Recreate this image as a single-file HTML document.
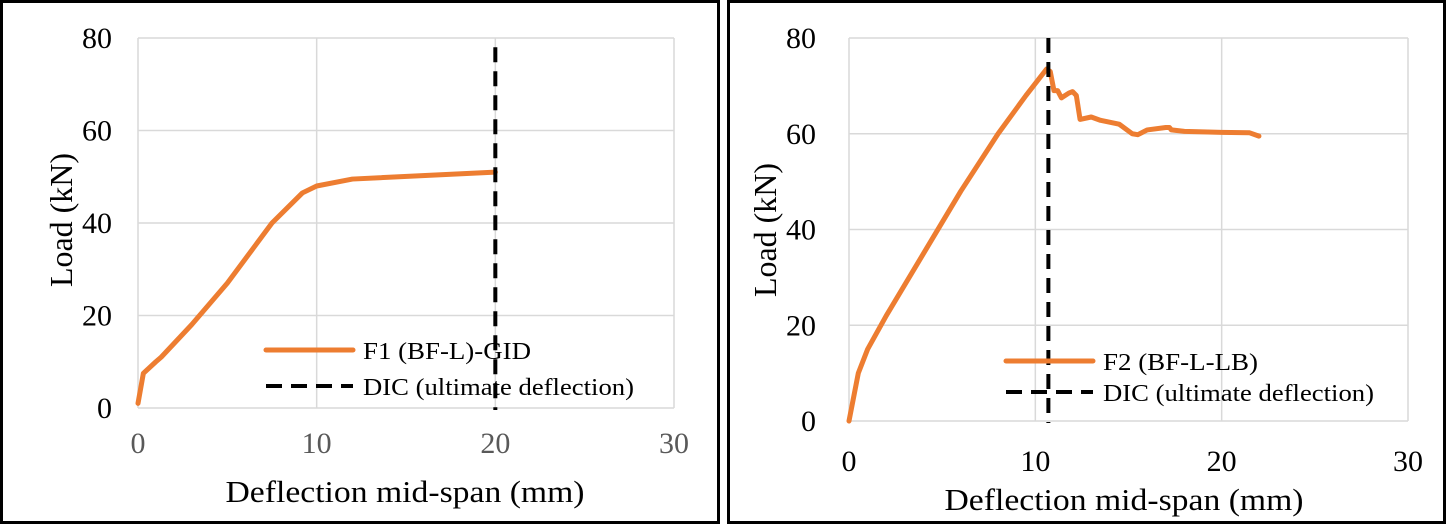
<!DOCTYPE html>
<html><head><meta charset="utf-8"><style>
body{margin:0;background:#fff;}
svg{display:block;font-family:"Liberation Serif",serif;}
</style></head><body>
<svg width="1446" height="524">
<g id="left"></g>
<g id="right"></g>
</svg>
<script>
const xTicks=[0,10,20,30];
const yTicks=[0,20,40,60,80];
const f1X=[0,0.3,1,1.3,3,5,7.5,9.2,10,12,20];
const f1Y=[1,7.5,10,11,18,27,40,46.5,48,49.5,51];
const f2X=[0,0.5,1,2,4,6,8,9.5,10.6,10.8,11,11.2,11.4,11.8,12,12.2,12.4,13,13.5,14.5,15.2,15.5,16,17,17.2,17.3,18,20,21.5,22];
const f2Y=[0,10,15,22,35,48,60,68,73.5,73,69,69,67.5,68.5,68.8,68,63,63.5,62.8,62,60,59.8,60.8,61.3,61.3,60.8,60.5,60.3,60.2,59.5];
const dic1X=20, dic1Top=78;
const dic2X=10.7, dic2Top=80;
const NS="http://www.w3.org/2000/svg";
function mk(p,t,a){const e=document.createElementNS(NS,t);for(const k in a)e.setAttribute(k,a[k]);p.appendChild(e);return e;}
function chart(g,o){
  const sx=v=>o.x0+(o.x1-o.x0)*v/30, sy=v=>o.y0+(o.y1-o.y0)*v/80;
  const fr=mk(g,'rect',{x:o.bx,y:1.5,width:o.bw,height:521,fill:'none',stroke:'#000','stroke-width':3});
  
  yTicks.forEach(t=>{const l=mk(g,'line',{x1:sx(0),x2:sx(30),y1:sy(t),y2:sy(t),stroke:'#d9d9d9','stroke-width':1.5});
    
    const tx=mk(g,'text',{x:sx(0)-o.yto,y:sy(t)+10,'text-anchor':'end','font-size':30,fill:'#000'});tx.textContent=t;
    });
  xTicks.forEach(t=>{const l=mk(g,'line',{x1:sx(t),x2:sx(t),y1:sy(0),y2:sy(80),stroke:'#d9d9d9','stroke-width':1.5});
    
    const tx=mk(g,'text',{x:sx(t),y:o.xtY,'text-anchor':'middle','font-size':30,fill:o.xtc});tx.textContent=t;
    });
  const pl=mk(g,'polyline',{points:o.xs.map((v,i)=>sx(v)+','+sy(o.ys[i])).join(' '),fill:'none',stroke:'#ed7d31','stroke-width':5,'stroke-linejoin':'round','stroke-linecap':'round'});
  
  const d=mk(g,'line',{x1:sx(o.dx),x2:sx(o.dx),y1:sy(o.dt),y2:sy(0)+2,stroke:'#000','stroke-width':4,'stroke-dasharray':'15 9'});
  
  const yt=mk(g,'text',{transform:`translate(${o.ytx},${o.ytc}) rotate(-90)`,'text-anchor':'middle','font-size':32,textLength:134,lengthAdjust:'spacingAndGlyphs'});yt.textContent='Load (kN)';
  
  const xt=mk(g,'text',{x:o.xtx,y:o.xty,'text-anchor':'middle','font-size':31,textLength:359,lengthAdjust:'spacingAndGlyphs'});xt.textContent='Deflection mid-span (mm)';
  
  const le=mk(g,'g',{});
  const l1=mk(le,'line',{x1:o.lx,x2:o.lx+87,y1:o.ly1,y2:o.ly1,stroke:'#ed7d31','stroke-width':5,'stroke-linecap':'round'});
  
  const t1=mk(le,'text',{x:o.lx+97,y:o.ly1+9,'font-size':24,textLength:o.nw,lengthAdjust:'spacingAndGlyphs'});t1.textContent=o.name;
  
  const l2=mk(le,'line',{x1:o.lx,x2:o.lx+87,y1:o.ly2,y2:o.ly2,stroke:'#000','stroke-width':4,'stroke-dasharray':'16 9'});
  
  const t2=mk(le,'text',{x:o.lx+97,y:o.ly2+9,'font-size':24,textLength:271,lengthAdjust:'spacingAndGlyphs'});t2.textContent='DIC (ultimate deflection)';
  
}
chart(document.getElementById('left'),{bx:1.5,bw:717,x0:138,x1:674,y0:408,y1:38,yto:26,xtY:453,xtc:'#595959',xs:f1X,ys:f1Y,dx:dic1X,dt:dic1Top,ytx:72,ytc:220,xtx:405,xty:502,lx:266,ly1:350,ly2:386,nw:168,name:'F1 (BF-L)-GID'});
chart(document.getElementById('right'),{bx:728.5,bw:716,x0:849,x1:1408,y0:421,y1:38,yto:33,xtY:471,xtc:'#000',xs:f2X,ys:f2Y,dx:dic2X,dt:dic2Top,ytx:776,ytc:230,xtx:1124,xty:510,lx:1006,ly1:361,ly2:392,nw:155,name:'F2 (BF-L-LB)'});
</script>
</body></html>
